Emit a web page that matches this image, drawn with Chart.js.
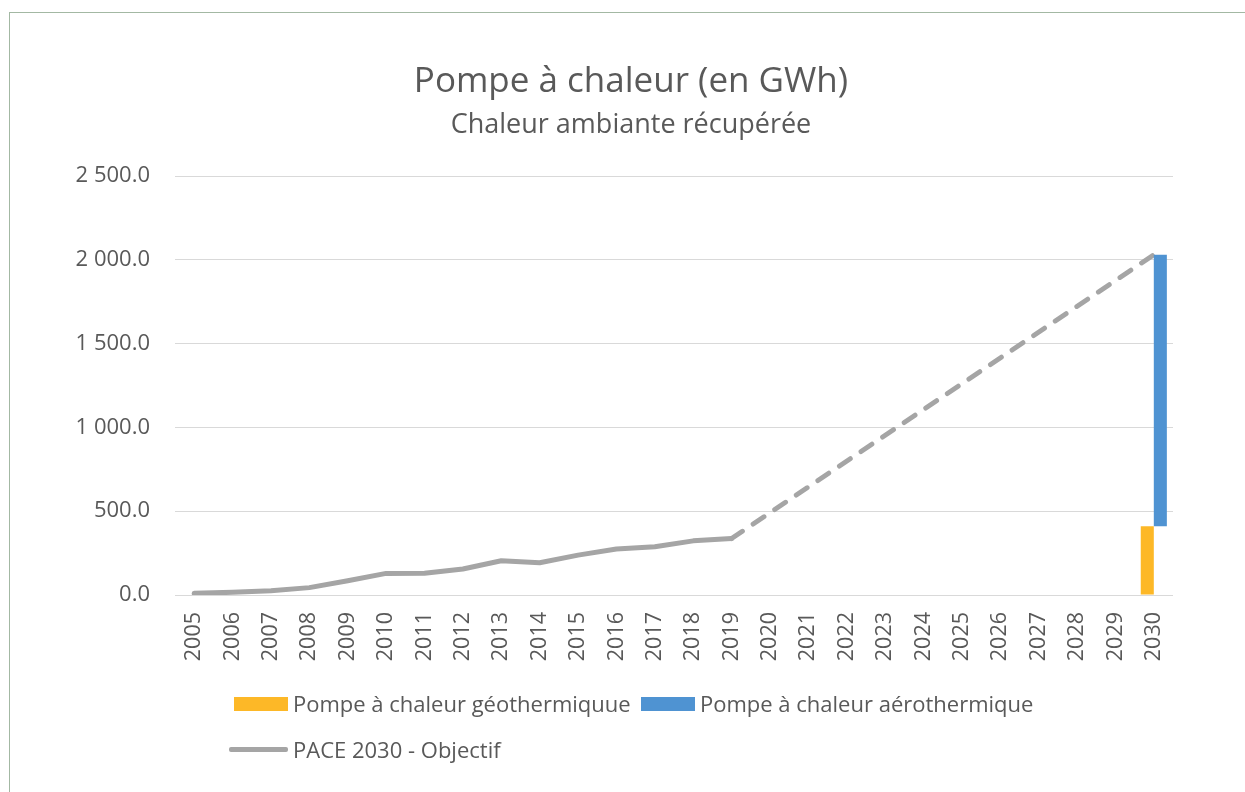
<!DOCTYPE html>
<html><head><meta charset="utf-8">
<script src="https://cdn.jsdelivr.net/npm/chart.js@4"></script>
<style>
html,body{margin:0;padding:0;background:#fff;overflow:hidden;}
#wrap{position:relative;width:1245px;height:792px;overflow:hidden;}
#frame{position:absolute;left:9px;top:12px;width:1300px;height:900px;border-left:1px solid #a3b8a3;border-top:1px solid #a3b8a3;}
canvas{position:absolute;left:0;top:0;}
.leg{position:absolute;font-family:'Open Sans',sans-serif;font-size:22px;color:#595959;white-space:nowrap;line-height:1;}
.sw{position:absolute;}
</style></head>
<body><div id="wrap"><div id="frame"></div><canvas id="c" width="1245" height="792"></canvas>
<div class="sw" style="left:234px;top:697px;width:54px;height:14px;background:#FDB827"></div>
<div class="leg" style="left:293px;top:692px">Pompe à chaleur géothermiquue</div>
<div class="sw" style="left:641px;top:697px;width:54px;height:14px;background:#4F93D2"></div>
<div class="leg" style="left:700px;top:692px">Pompe à chaleur aérothermique</div>
<div class="sw" style="left:229px;top:747px;width:59px;height:5px;background:#A5A5A5;border-radius:2px"></div>
<div class="leg" style="left:293px;top:738px">PACE 2030 - Objectif</div>
</div>
<script>
const years = ['2005','2006','2007','2008','2009','2010','2011','2012','2013','2014','2015','2016','2017','2018','2019','2020','2021','2022','2023','2024','2025','2026','2027','2028','2029','2030'];
const objectif = [10,16,26,44,85,129,130,155,204,192,238,274,288,323,337,null,null,null,null,null,null,null,null,null,null,2030];
const geothermique = [null,null,null,null,null,null,null,null,null,null,null,null,null,null,null,null,null,null,null,null,null,null,null,null,null,410];
const aerothermique = [null,null,null,null,null,null,null,null,null,null,null,null,null,null,null,null,null,null,null,null,null,null,null,null,null,1620];
const yMin = 0, yMax = 2500, yStep = 500;

function fmt(v){
  const parts = Number(v).toFixed(1).split('.');
  return parts[0].replace(/\B(?=(\d{3})+(?!\d))/g,' ') + '.' + parts[1];
}
const aeroFloating = aerothermique.map((v,i)=> v==null ? null : [geothermique[i]||0, (geothermique[i]||0)+v]);
const txt = '#595959';
new Chart(document.getElementById('c'), {
  type: 'bar',
  data: {
    labels: years,
    datasets: [
      {label:'Pompe à chaleur géothermiquue', data: geothermique, backgroundColor:'#FDB827', categoryPercentage:0.68, barPercentage:1.0},
      {label:'Pompe à chaleur aérothermique', data: aeroFloating, backgroundColor:'#4F93D2', categoryPercentage:0.68, barPercentage:1.0},
      {type:'line', label:'PACE 2030 - Objectif', data: objectif, borderColor:'#A5A5A5', backgroundColor:'#A5A5A5',
       borderWidth:5, pointRadius:0, pointHoverRadius:0, spanGaps:true, tension:0,
       borderCapStyle:'round', borderJoinStyle:'round',
       segment:{ borderDash: ctx => (ctx.p0.skip || ctx.p1.skip) ? [13,13] : undefined }}
    ]
  },
  options: {
    responsive:false, animation:false, devicePixelRatio:1,
    layout:{padding:{left:17,right:0,top:0,bottom:0}},
    plugins:{
      legend:{display:false}, tooltip:{enabled:false},
      title:{display:true, text:'Pompe à chaleur (en GWh)', color:txt, font:{family:'Open Sans', size:35, weight:'normal', lineHeight:1.2}, padding:{top:61,bottom:0}},
      subtitle:{display:true, text:'Chaleur ambiante récupérée', color:txt, font:{family:'Open Sans', size:27, weight:'normal', lineHeight:1.2}, padding:{top:6,bottom:34.6}}
    },
    scales:{
      x:{
        grid:{display:false, drawTicks:false}, border:{display:false},
        ticks:{color:txt, font:{family:'Open Sans', size:21.5}, minRotation:90, maxRotation:90, autoSkip:false, padding:17},
        afterFit: s => { s.height = 197; }
      },
      y:{
        min:yMin, max:yMax,
        grid:{color:'#d9d9d9', lineWidth:1, drawTicks:false}, border:{display:false},
        ticks:{stepSize:yStep, color:txt, font:{family:'Open Sans', size:22}, padding:25, callback: v => fmt(v)},
        afterFit: s => { s.width = 158; }
      },
      y2:{
        position:'right', min:yMin, max:yMax,
        grid:{display:false, drawTicks:false}, border:{display:false},
        ticks:{display:false},
        afterFit: s => { s.width = 72; }
      }
    }
  }
});
</script>
</body></html>
